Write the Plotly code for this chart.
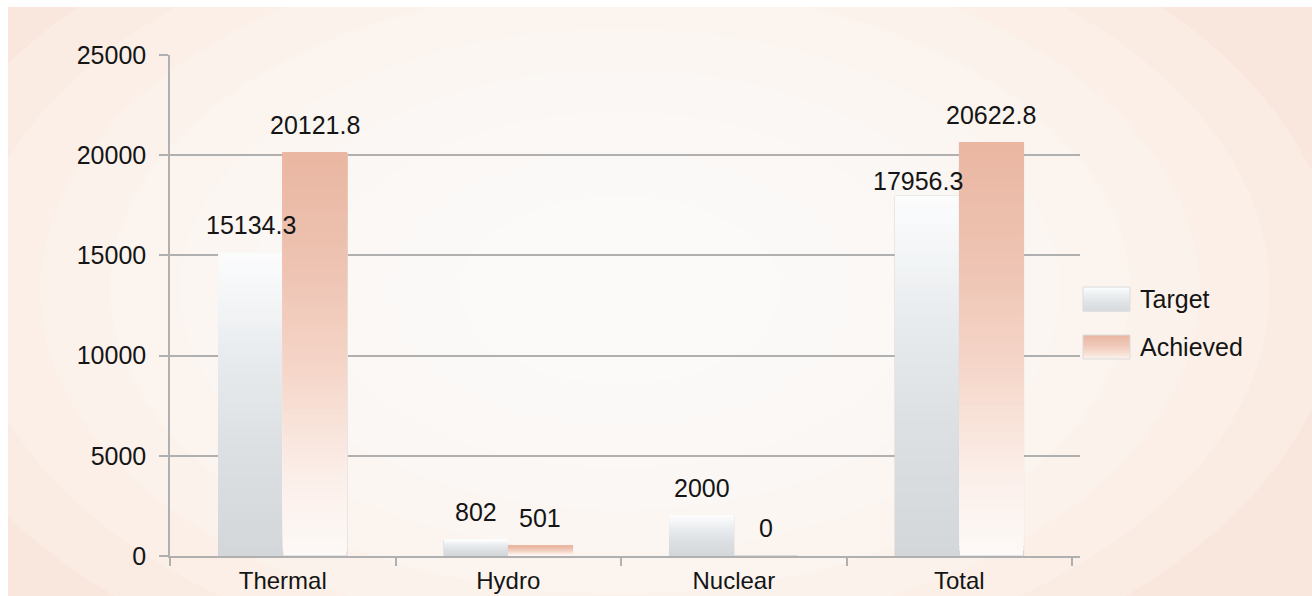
import plotly.graph_objects as go

# ---- data ----
categories = ["Thermal", "Hydro", "Nuclear", "Total"]
target = [15134.3, 802, 2000, 17956.3]
achieved = [20121.8, 501, 0, 20622.8]
series_names = ["Target", "Achieved"]
y_ticks = [0, 5000, 10000, 15000, 20000, 25000]

# ---- styling ----
W, H = 1312, 596
PLOT_L, PLOT_R, PLOT_T, PLOT_B = 170, 1080, 55, 556
X_RANGE = [-0.5, 3.535]
BARGAP = 0.43
FONT = "Liberation Sans, Arial, Helvetica, sans-serif"
TXT = "#151515"
GRID = "#b0b0b0"
N_SEG = 80  # overlapping layers used to shade each bar from bottom to top

# colour ramps, bottom -> top of each bar
ramps = {
    "Target": [(0.0, (211, 215, 218)), (0.35, (220, 224, 227)), (0.65, (232, 235, 238)),
               (0.85, (244, 246, 247)), (1.0, (252, 252, 253))],
    "Achieved": [(0.0, (253, 249, 247)), (0.2, (251, 238, 232)), (0.45, (245, 214, 201)),
                 (0.7, (238, 196, 179)), (1.0, (233, 182, 161))],
}
label_nudge = {("Total", "Target"): (-9, -13)}


def ramp_rgb(stops, t):
    for (t0, c0), (t1, c1) in zip(stops, stops[1:]):
        if t <= t1:
            f = (t - t0) / (t1 - t0) if t1 > t0 else 0
            return [round(a + (b - a) * f) for a, b in zip(c0, c1)]
    return list(stops[-1][1])


def ramp_color(stops, t):
    c = ramp_rgb(stops, t)
    return f"rgb({c[0]},{c[1]},{c[2]})"


fig = go.Figure()

for name, vals in zip(series_names, [target, achieved]):
    # full-height bar with a light outline
    fig.add_trace(go.Bar(
        x=categories, y=vals, name=name, offsetgroup=name, showlegend=False,
        marker=dict(color=ramp_color(ramps[name], 0.0), line=dict(color="#d2d2d2", width=1)),
        hovertemplate="%{x}: %{y}<extra>" + name + "</extra>",
    ))
    # each layer runs from its start height up to the bar top, so later
    # layers cover the upper part and the colour changes towards the top
    for k in range(1, N_SEG):
        t = k / N_SEG
        fig.add_trace(go.Bar(
            x=categories,
            y=[v * (1 - t) for v in vals],
            base=[v * t for v in vals],
            offsetgroup=name, showlegend=False,
            marker=dict(color=ramp_color(ramps[name], t), line=dict(width=0)),
            hoverinfo="skip",
        ))

# value labels above the bars
cat_px = (PLOT_R - PLOT_L) / (X_RANGE[1] - X_RANGE[0])
bar_px = cat_px * (1 - BARGAP) / 2
annotations = []
for si, (name, vals) in enumerate(zip(series_names, [target, achieved])):
    side = -1 if si == 0 else 1
    for cat, v in zip(categories, vals):
        dx, dy = label_nudge.get((cat, name), (0, 0))
        annotations.append(dict(
            x=cat, y=v, xref="x", yref="y", text=f"{v:g}", showarrow=False,
            xshift=side * bar_px / 2 + dx, yshift=28 + dy, yanchor="middle",
            font=dict(family=FONT, size=25, color=TXT),
        ))

# panel background with a soft lighter centre
shapes = [dict(type="rect", xref="paper", yref="paper", x0=8 / W, x1=1, y0=0, y1=1 - 7 / H,
               fillcolor="#f9e6dd", line=dict(width=0), layer="below")]
cx, cy = 620 / W, 1 - 290 / H
for i in range(9):
    rx = (720 - i * 70) / W
    ry = (430 - i * 42) / H
    shapes.append(dict(type="circle", xref="paper", yref="paper",
                       x0=cx - rx, x1=cx + rx, y0=cy - ry, y1=cy + ry,
                       fillcolor="white", opacity=0.2, line=dict(width=0), layer="below"))

# legend: shaded swatch plus series name
LEG_X0, LEG_X1, LEG_TXT = 1083, 1130, 1138
legend_rows = {"Target": 299, "Achieved": 347}
for name in series_names:
    yc = legend_rows[name]
    top, bot = yc - 12, yc + 12
    n = 12
    for j in range(n):
        t = 1 - (j + 0.5) / n
        y_a = top + (bot - top) * j / n
        y_b = top + (bot - top) * (j + 1) / n + 0.6
        shapes.append(dict(type="rect", xref="paper", yref="paper",
                           x0=LEG_X0 / W, x1=LEG_X1 / W,
                           y0=1 - y_b / H, y1=1 - y_a / H,
                           fillcolor=ramp_color(ramps[name], 0.15 + 0.85 * t),
                           line=dict(width=0), layer="above"))
    shapes.append(dict(type="rect", xref="paper", yref="paper",
                       x0=LEG_X0 / W, x1=LEG_X1 / W, y0=1 - bot / H, y1=1 - top / H,
                       fillcolor="rgba(0,0,0,0)", line=dict(color="#dcdcdc", width=1),
                       layer="above"))
    annotations.append(dict(
        x=LEG_TXT / W, y=1 - yc / H, xref="paper", yref="paper", text=name,
        showarrow=False, xanchor="left", yanchor="middle",
        font=dict(family=FONT, size=25, color=TXT),
    ))

fig.update_layout(
    width=W, height=H,
    margin=dict(l=0, r=0, t=0, b=0, autoexpand=False),
    paper_bgcolor="white", plot_bgcolor="rgba(0,0,0,0)",
    barmode="group", bargap=BARGAP, bargroupgap=0,
    font=dict(family=FONT, size=25, color=TXT),
    showlegend=False,
    annotations=annotations,
    shapes=shapes,
    xaxis=dict(
        domain=[PLOT_L / W, PLOT_R / W], type="category", range=X_RANGE,
        categoryorder="array", categoryarray=categories, automargin=False,
        tickson="boundaries", ticks="outside", ticklen=8, tickcolor=GRID, tickwidth=1.5,
        showline=True, linecolor=GRID, linewidth=1.5, showgrid=False,
        tickfont=dict(size=24, color=TXT), ticklabelstandoff=2,
    ),
    yaxis=dict(
        domain=[1 - PLOT_B / H, 1 - PLOT_T / H], range=[0, 25000], automargin=False,
        tickvals=y_ticks, ticktext=[str(t) for t in y_ticks],
        ticks="outside", ticklen=9, tickcolor=GRID, tickwidth=1.5,
        showline=True, linecolor=GRID, linewidth=1.5,
        showgrid=True, gridcolor=GRID, gridwidth=1.5, zeroline=False,
        tickfont=dict(size=25, color=TXT), ticklabelstandoff=8,
    ),
)

fig.write_html("out.html")
